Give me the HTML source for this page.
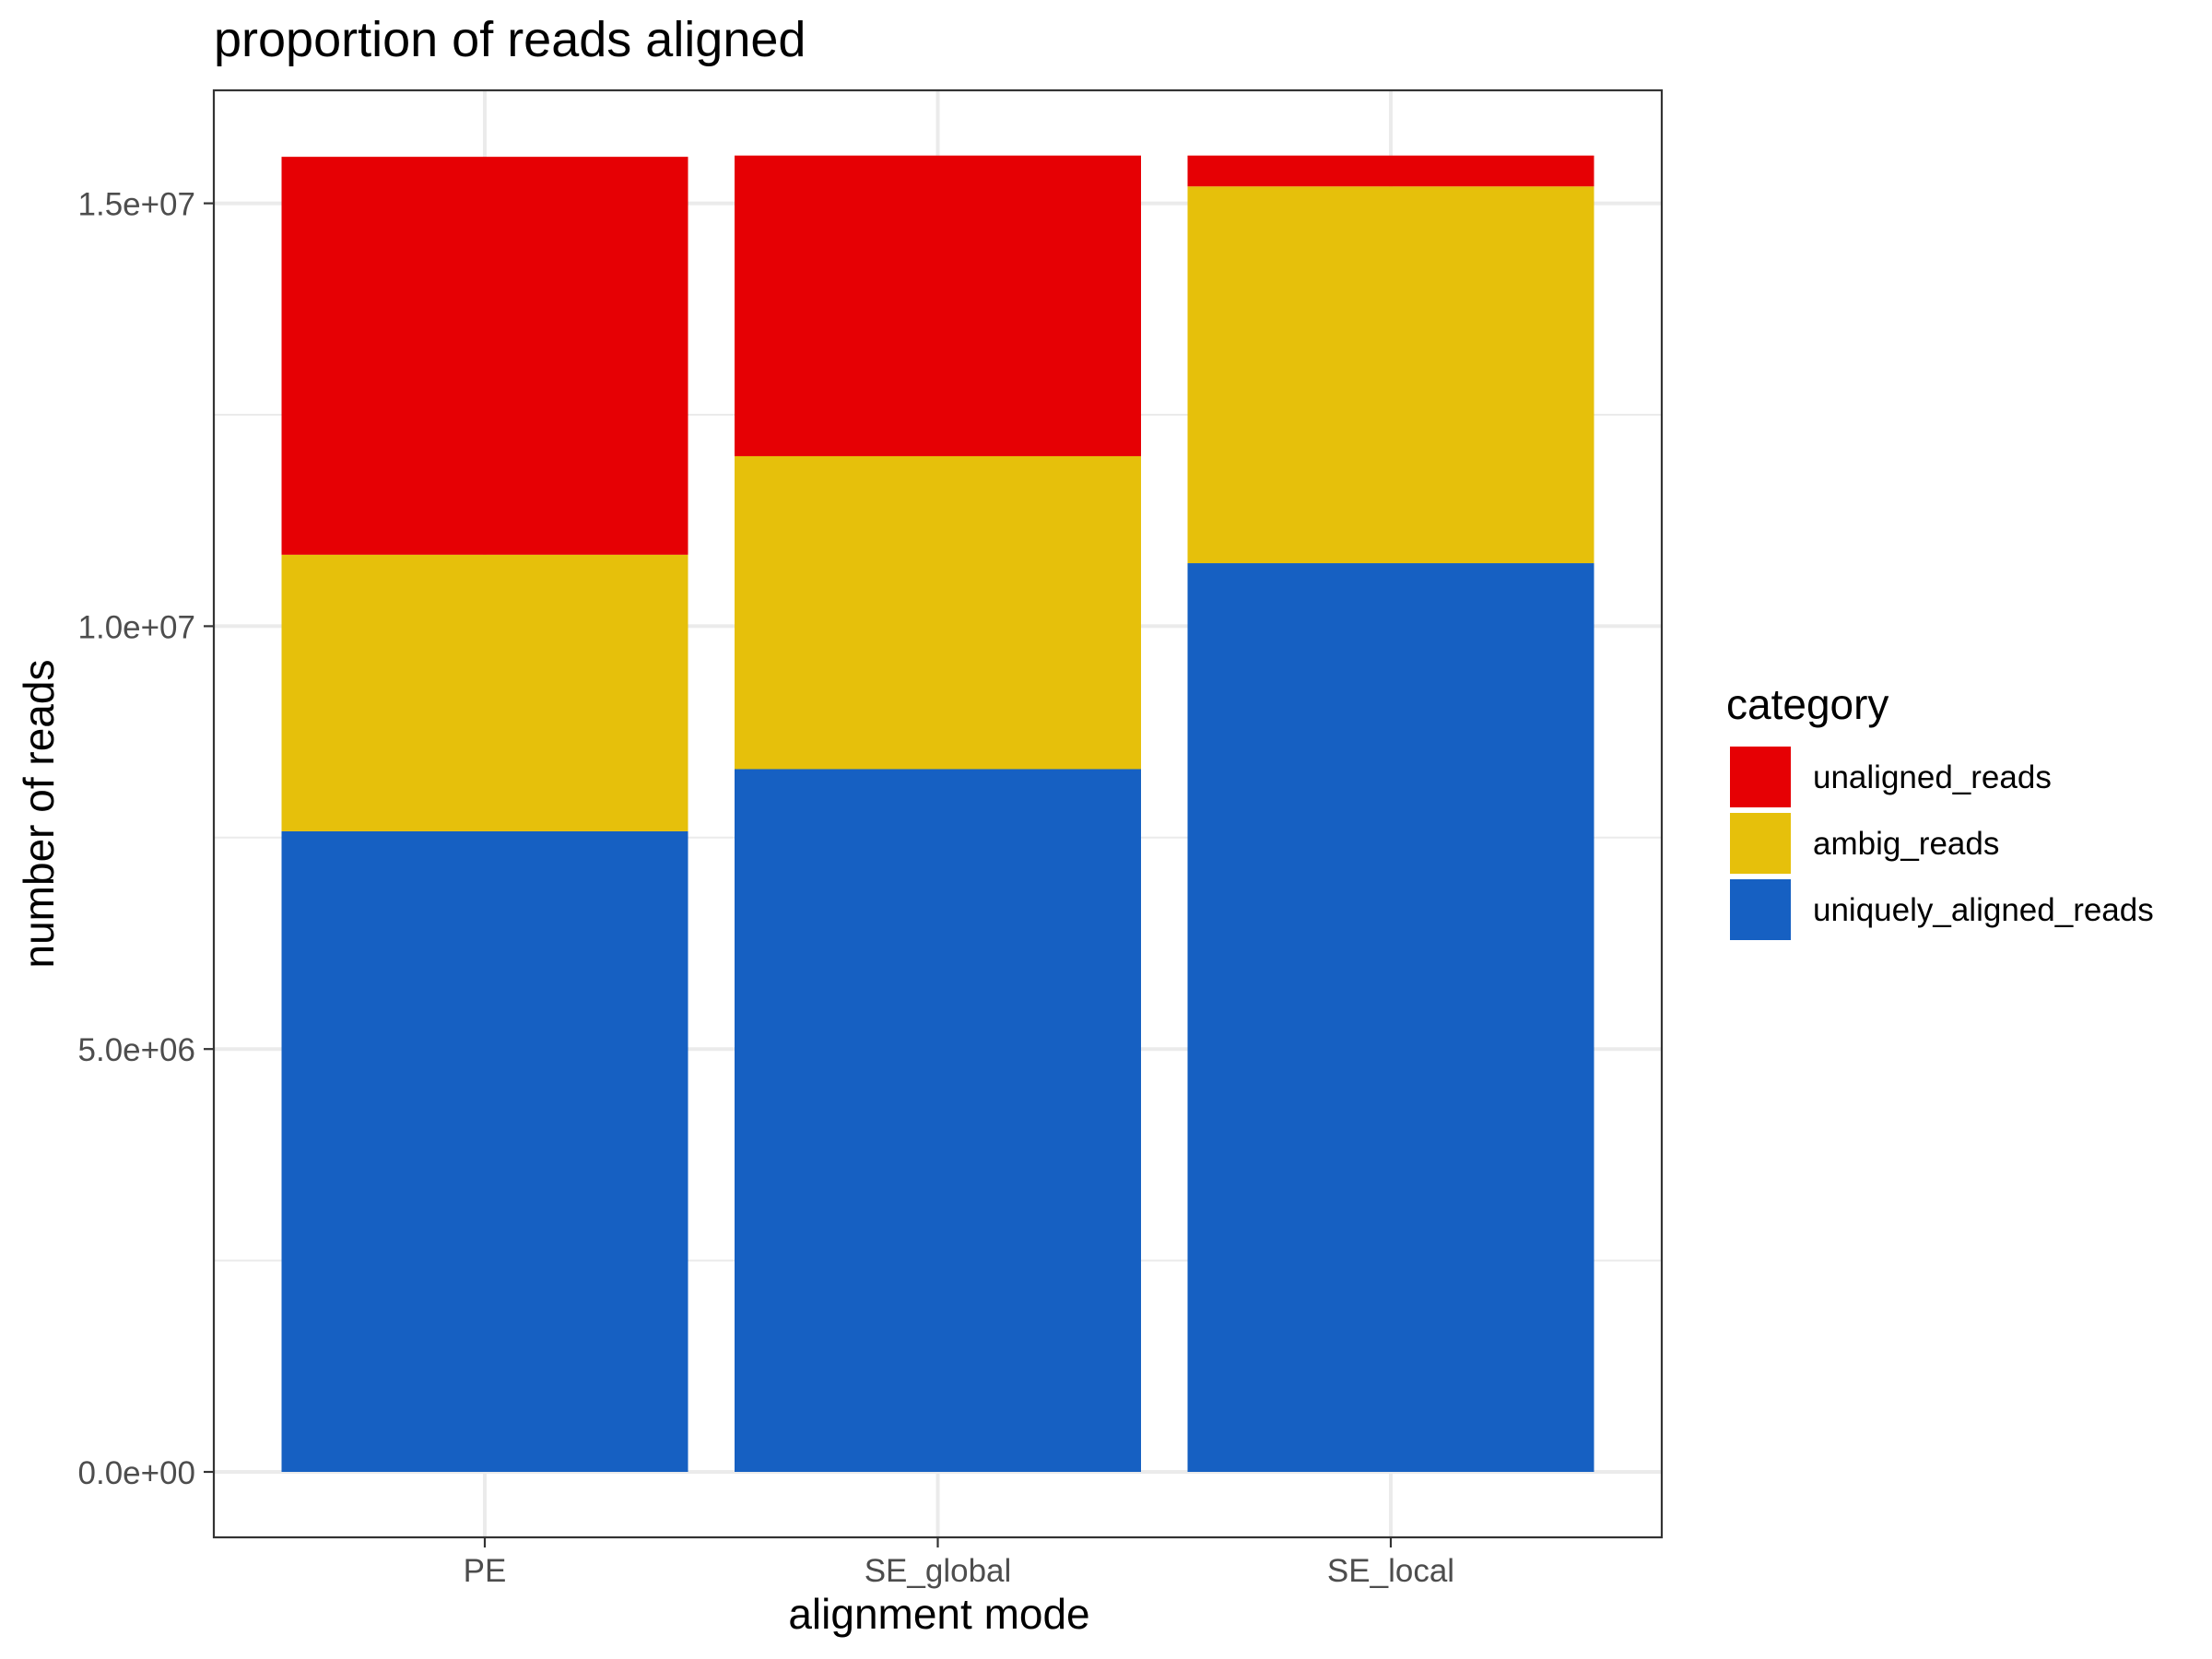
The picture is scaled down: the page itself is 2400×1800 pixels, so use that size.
<!DOCTYPE html>
<html><head><meta charset="utf-8"><style>
html,body{margin:0;padding:0;background:#fff}
svg{display:block;font-family:"Liberation Sans",Arial,sans-serif}
</style></head><body>
<svg id="chart" width="2400" height="1800" viewBox="0 0 2400 1800">
<rect x="0" y="0" width="2400" height="1800" fill="#fff"/>
<text x="232" y="61" font-size="54" fill="#000">proportion of reads aligned</text>
<g id="grid"></g>
<g id="bars"></g>
<rect x="232" y="98" width="1571" height="1570" fill="none" stroke="#333" stroke-width="2.2"/>
<g id="axes"></g>
<text x="1019" y="1767" font-size="46" text-anchor="middle" fill="#000">alignment mode</text>
<text transform="translate(58,883) rotate(-90)" font-size="46" text-anchor="middle" fill="#000">number of reads</text>
<g id="legend">
<text x="1873" y="780" font-size="46" fill="#000">category</text>
</g>
</svg>
<script>
const categories = ["PE", "SE_global", "SE_local"];
const seriesNames = ["uniquely_aligned_reads", "ambig_reads", "unaligned_reads"];
const uniquelyAligned = [7575000, 8310000, 10745000];
const ambig = [3270000, 3700000, 4455000];
const unaligned = [4705000, 3555000, 365000];
const yTicks = [0, 5000000, 10000000, 15000000];
const yTickLabels = ["0.0e+00", "5.0e+06", "1.0e+07", "1.5e+07"];
const legendOrder = ["unaligned_reads", "ambig_reads", "uniquely_aligned_reads"];

const colors = {uniquely_aligned_reads:"#1660C2", ambig_reads:"#E6C00B", unaligned_reads:"#E60004"};
const series = {uniquely_aligned_reads:uniquelyAligned, ambig_reads:ambig, unaligned_reads:unaligned};
const NS = "http://www.w3.org/2000/svg";
const P = {l:232, r:1803, t:98, b:1668};
const y0px = 1597, pxPer = 458.8/5000000;
function yScale(v){ return y0px - v*pxPer; }
const step = (1510-527)/2;
function xScale(i){ return 526 + i*step; }
const barW = 441;
function mk(tag, attrs, parent){ const e=document.createElementNS(NS,tag); for(const k in attrs) e.setAttribute(k,attrs[k]); parent.appendChild(e); return e; }

const grid = document.getElementById('grid');
for (let i=0;i<yTicks.length-1;i++){
  const v=(yTicks[i]+yTicks[i+1])/2;
  const l=mk('line',{x1:P.l,x2:P.r,y1:yScale(v),y2:yScale(v),stroke:'#EBEBEB','stroke-width':2},grid);
  
  
}
yTicks.forEach(v=>{
  const l=mk('line',{x1:P.l,x2:P.r,y1:yScale(v),y2:yScale(v),stroke:'#EBEBEB','stroke-width':4},grid);
  
  
});
categories.forEach((c,i)=>{
  const l=mk('line',{x1:xScale(i),x2:xScale(i),y1:P.t,y2:P.b,stroke:'#EBEBEB','stroke-width':4},grid);
  
  
});

const bars = document.getElementById('bars');
categories.forEach((c,i)=>{
  let cum=0;
  seriesNames.forEach(s=>{
    const v=series[s][i];
    const top=yScale(cum+v), bot=yScale(cum);
    const r=mk('rect',{x:xScale(i)-barW/2,y:top,width:barW,height:bot-top,fill:colors[s]},bars);
    
    
    cum+=v;
  });
});

const axes = document.getElementById('axes');
yTicks.forEach((v,i)=>{
  const t=mk('line',{x1:P.l-11,x2:P.l,y1:yScale(v),y2:yScale(v),stroke:'#333','stroke-width':2.2},axes);
  
  
  const tx=mk('text',{x:P.l-20,y:yScale(v)+13,'font-size':35,'text-anchor':'end',fill:'#4D4D4D'},axes);
  tx.textContent=yTickLabels[i];
  
  
});
categories.forEach((c,i)=>{
  const t=mk('line',{x1:xScale(i),x2:xScale(i),y1:P.b,y2:P.b+11,stroke:'#333','stroke-width':2.2},axes);
  
  
  const tx=mk('text',{x:xScale(i),y:1716,'font-size':35,'text-anchor':'middle',fill:'#4D4D4D'},axes);
  tx.textContent=c;
  
  
});

const legend = document.getElementById('legend');
legendOrder.forEach((s,i)=>{
  const y=810+i*72;
  const k=mk('rect',{x:1877,y:y,width:66,height:66,fill:colors[s]},legend);
  
  
  const t=mk('text',{x:1967,y:y+45,'font-size':35,fill:'#000'},legend);
  t.textContent=s;
  
  
});
</script>
</body></html>
